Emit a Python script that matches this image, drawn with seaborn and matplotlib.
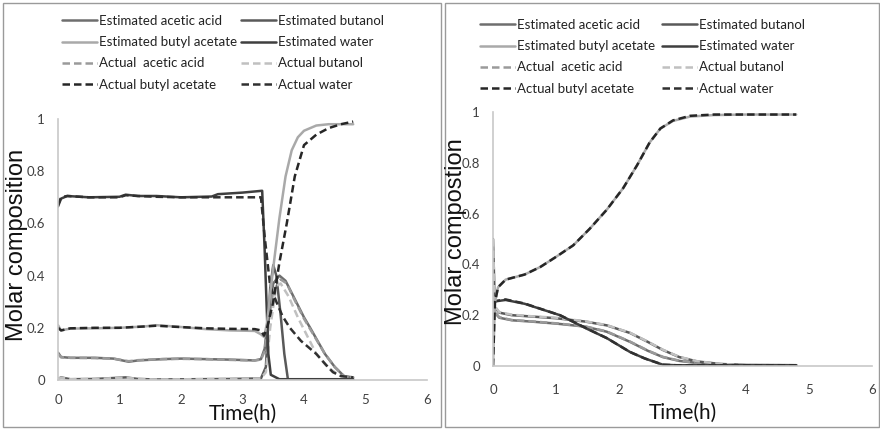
import matplotlib
matplotlib.use("Agg")
import matplotlib.pyplot as plt
import matplotlib.patches as mpatches
import seaborn as sns
import numpy as np

sns.set_theme(style="white")
plt.rcParams['font.family'] = ['Lato', 'DejaVu Sans']

# ---------------- Left panel data ----------------
L_est_acetic_t = [0, 0.05, 0.2, 0.6, 0.9, 1.15, 1.3, 1.7, 2.0, 2.4, 2.8, 3.2, 3.3, 3.36, 3.42, 3.5, 3.6, 3.7, 3.85, 4.0, 4.1, 4.34, 4.5, 4.65, 4.8]
L_est_acetic = [0.105, 0.088, 0.085, 0.085, 0.082, 0.07, 0.075, 0.08, 0.082, 0.08, 0.078, 0.075, 0.08, 0.12, 0.25, 0.37, 0.40, 0.38, 0.31, 0.24, 0.20, 0.10, 0.05, 0.015, 0.01]

L_act_acetic_t = [0, 0.05, 0.2, 0.6, 0.9, 1.15, 1.3, 1.7, 2.0, 2.4, 2.8, 3.2, 3.3, 3.36, 3.42, 3.5, 3.62, 3.72, 3.85, 4.0, 4.1, 4.34, 4.5, 4.65, 4.8]
L_act_acetic = [0.1, 0.087, 0.085, 0.084, 0.082, 0.072, 0.076, 0.08, 0.081, 0.08, 0.077, 0.075, 0.078, 0.11, 0.22, 0.34, 0.385, 0.37, 0.305, 0.235, 0.195, 0.10, 0.05, 0.015, 0.01]

L_est_butanol_t = [0, 0.05, 0.2, 0.6, 1.1, 1.3, 1.6, 2.2, 2.8, 3.3, 3.38, 3.45, 3.5, 3.55, 3.62, 3.68, 3.74, 4.8]
L_est_butanol = [0.004, 0.01, 0.003, 0.004, 0.01, 0.004, 0.002, 0.003, 0.004, 0.006, 0.05, 0.35, 0.44, 0.40, 0.25, 0.10, 0.0, 0.0]

L_act_butanol_t = [0, 0.05, 0.2, 0.6, 1.1, 1.3, 1.6, 2.2, 2.8, 3.3, 3.38, 3.45, 3.55, 3.62, 3.75, 3.9, 4.05, 4.2, 4.4, 4.6, 4.8]
L_act_butanol = [0.004, 0.009, 0.003, 0.004, 0.009, 0.004, 0.002, 0.003, 0.004, 0.006, 0.03, 0.2, 0.36, 0.37, 0.32, 0.24, 0.17, 0.10, 0.045, 0.015, 0.01]

L_est_ester_t = [0, 0.05, 0.2, 0.6, 1.0, 1.4, 1.6, 1.9, 2.4, 2.8, 3.2, 3.3, 3.35, 3.4, 3.45, 3.5, 3.6, 3.7, 3.8, 3.9, 4.0, 4.2, 4.4, 4.6, 4.8]
L_est_ester = [0.21, 0.19, 0.197, 0.198, 0.2, 0.205, 0.21, 0.205, 0.195, 0.19, 0.188, 0.175, 0.165, 0.22, 0.33, 0.43, 0.62, 0.78, 0.88, 0.93, 0.955, 0.975, 0.98, 0.98, 0.98]

L_act_ester_t = [0, 0.05, 0.2, 0.6, 1.0, 1.4, 1.6, 1.9, 2.4, 2.8, 3.2, 3.3, 3.35, 3.4, 3.5, 3.6, 3.72, 3.85, 4.0, 4.2, 4.4, 4.6, 4.8]
L_act_ester = [0.2, 0.19, 0.198, 0.2, 0.2, 0.205, 0.208, 0.204, 0.198, 0.196, 0.195, 0.19, 0.17, 0.2, 0.3, 0.45, 0.6, 0.78, 0.9, 0.94, 0.965, 0.98, 0.99]

L_est_water_t = [0, 0.05, 0.15, 0.5, 1.0, 1.1, 1.3, 1.6, 2.0, 2.5, 2.6, 3.0, 3.32, 3.36, 3.42, 3.46, 3.6, 4.8]
L_est_water = [0.665, 0.695, 0.705, 0.70, 0.702, 0.71, 0.705, 0.705, 0.70, 0.703, 0.712, 0.718, 0.725, 0.50, 0.10, 0.02, 0.003, 0.003]

L_act_water_t = [0, 0.05, 0.15, 0.5, 1.0, 1.1, 1.3, 1.6, 2.0, 2.5, 3.0, 3.3, 3.36, 3.45, 3.55, 3.65, 3.77, 3.95, 4.2, 4.35, 4.47, 4.6, 4.8]
L_act_water = [0.67, 0.70, 0.705, 0.70, 0.70, 0.708, 0.705, 0.702, 0.70, 0.70, 0.70, 0.70, 0.55, 0.36, 0.30, 0.245, 0.20, 0.15, 0.10, 0.06, 0.03, 0.015, 0.01]

# ---------------- Right panel data ----------------
R_t = [0, 0.03, 0.1, 0.3, 0.6, 1.0, 1.46, 1.8, 2.17, 2.45, 2.69, 2.95, 3.23, 3.6, 4.0, 4.8]
R_est_butanol = [0.5, 0.23, 0.21, 0.2, 0.195, 0.188, 0.175, 0.16, 0.13, 0.095, 0.063, 0.035, 0.018, 0.008, 0.004, 0.003]
R_act_butanol = [0.5, 0.235, 0.212, 0.202, 0.196, 0.19, 0.176, 0.161, 0.131, 0.096, 0.064, 0.036, 0.019, 0.008, 0.004, 0.003]
R_est_acetic = [0.25, 0.21, 0.19, 0.18, 0.175, 0.167, 0.155, 0.135, 0.095, 0.06, 0.035, 0.02, 0.012, 0.006, 0.003, 0.003]
R_act_acetic = [0.25, 0.212, 0.192, 0.181, 0.176, 0.168, 0.156, 0.136, 0.096, 0.061, 0.036, 0.021, 0.012, 0.006, 0.003, 0.003]

R_ester_t = [0, 0.03, 0.08, 0.2, 0.5, 0.75, 1.0, 1.27, 1.53, 1.8, 2.06, 2.28, 2.48, 2.65, 2.85, 3.12, 3.5, 4.0, 4.8]
R_est_ester = [0, 0.25, 0.31, 0.34, 0.36, 0.39, 0.43, 0.475, 0.54, 0.615, 0.70, 0.79, 0.88, 0.935, 0.965, 0.982, 0.988, 0.99, 0.99]
R_act_ester = [0, 0.25, 0.31, 0.34, 0.36, 0.39, 0.43, 0.475, 0.54, 0.615, 0.70, 0.79, 0.88, 0.935, 0.967, 0.985, 0.99, 0.99, 0.99]

R_water_t = [0, 0.05, 0.2, 0.5, 1.06, 1.5, 1.8, 2.17, 2.4, 2.69, 2.9, 3.2, 4.0, 4.8]
R_est_water = [0.25, 0.255, 0.26, 0.245, 0.20, 0.145, 0.11, 0.055, 0.03, 0.005, 0.003, 0.003, 0.003, 0.003]
R_act_water = [0.25, 0.256, 0.262, 0.246, 0.20, 0.146, 0.11, 0.055, 0.03, 0.005, 0.003, 0.003, 0.003, 0.003]

labels = ["Estimated acetic acid", "Estimated butanol", "Estimated butyl acetate", "Estimated water",
          "Actual  acetic acid", "Actual butanol", "Actual butyl acetate", "Actual water"]
x_ticks = [0, 1, 2, 3, 4, 5, 6]
y_ticks = [0, 0.2, 0.4, 0.6, 0.8, 1]
y_ticklabels = ["0", "0.2", "0.4", "0.6", "0.8", "1"]

styles = {
    "Estimated acetic acid": dict(color="#6e6e6e", ls="-", lw=1.8),
    "Estimated butanol": dict(color="#595959", ls="-", lw=1.8),
    "Estimated butyl acetate": dict(color="#a9a9a9", ls="-", lw=1.8),
    "Estimated water": dict(color="#3f3f3f", ls="-", lw=1.8),
    "Actual  acetic acid": dict(color="#9a9a9a", ls=(0, (3, 1.6)), lw=1.8),
    "Actual butanol": dict(color="#c0c0c0", ls=(0, (3, 1.6)), lw=1.8),
    "Actual butyl acetate": dict(color="#262626", ls=(0, (3, 1.6)), lw=1.8),
    "Actual water": dict(color="#303030", ls=(0, (3, 1.6)), lw=1.8),
}

fig = plt.figure(figsize=(8.8, 4.3), dpi=100)

# panel frames
for (x0, x1) in [(3 / 880, 441 / 880), (445 / 880, 878.5 / 880)]:
    fig.add_artist(mpatches.Rectangle((x0, 3 / 430), x1 - x0, 424 / 430, transform=fig.transFigure,
                                      fill=False, edgecolor="#9a9a9a", lw=1.0))

axL = fig.add_axes([58 / 880, 1 - 380 / 430, 369 / 880, 261 / 430])
axR = fig.add_axes([493 / 880, 1 - 366 / 430, 379 / 880, 254 / 430])

left_series = [
    ("Estimated acetic acid", L_est_acetic_t, L_est_acetic),
    ("Actual  acetic acid", L_act_acetic_t, L_act_acetic),
    ("Estimated butanol", L_est_butanol_t, L_est_butanol),
    ("Actual butanol", L_act_butanol_t, L_act_butanol),
    ("Estimated water", L_est_water_t, L_est_water),
    ("Actual water", L_act_water_t, L_act_water),
    ("Estimated butyl acetate", L_est_ester_t, L_est_ester),
    ("Actual butyl acetate", L_act_ester_t, L_act_ester),
]
right_series = [
    ("Estimated acetic acid", R_t, R_est_acetic),
    ("Actual  acetic acid", R_t, R_act_acetic),
    ("Estimated butanol", R_t, R_est_butanol),
    ("Actual butanol", R_t, R_act_butanol),
    ("Estimated water", R_water_t, R_est_water),
    ("Actual water", R_water_t, R_act_water),
    ("Estimated butyl acetate", R_ester_t, R_est_ester),
    ("Actual butyl acetate", R_ester_t, R_act_ester),
]

for ax, series in [(axL, left_series), (axR, right_series)]:
    for name, t, v in series:
        st = styles[name]
        sns.lineplot(x=t, y=v, ax=ax, color=st["color"], linestyle=st["ls"], linewidth=st["lw"],
                     estimator=None, sort=False, label=name, legend=False)
    ax.set_xlim(0, 6)
    ax.set_ylim(0, 1)
    ax.set_xticks(x_ticks)
    ax.set_xticklabels([str(v) for v in x_ticks])
    ax.set_yticks(y_ticks)
    ax.set_yticklabels(y_ticklabels)
    for s in ["top", "right"]:
        ax.spines[s].set_visible(False)
    for s in ["left", "bottom"]:
        ax.spines[s].set_color("#c8c8c8")
        ax.spines[s].set_linewidth(1.2)
    ax.tick_params(axis="both", length=0, labelsize=9.5, labelcolor="#404040")
    ax.grid(False)
    ax.set_facecolor("none")
    ax.set_xlabel("")
    ax.set_ylabel("")

axL.tick_params(axis="x", pad=10)
axL.tick_params(axis="y", pad=9.5)
axR.tick_params(axis="x", pad=13)
axR.tick_params(axis="y", pad=9.5)

# axis titles
fig.text(17 / 880, 1 - 245 / 430, "Molar composition", rotation=90, ha="center", va="center",
         fontsize=17, family=["Liberation Sans", "DejaVu Sans"], color="#111111")
fig.text(456 / 880, 1 - 232 / 430, "Molar compostion", rotation=90, ha="center", va="center",
         fontsize=17, family=["Liberation Sans", "DejaVu Sans"], color="#111111")
fig.text(243 / 880, 1 - 414 / 430, "Time(h)", ha="center", va="center", fontsize=15, color="#111111")
fig.text(683 / 880, 1 - 413 / 430, "Time(h)", ha="center", va="center", fontsize=15, color="#111111")

# legends (column-major order to match row-major reference layout)
order = ["Estimated acetic acid", "Estimated butyl acetate", "Actual  acetic acid", "Actual butyl acetate",
         "Estimated butanol", "Estimated water", "Actual butanol", "Actual water"]
for ax, anchor, colsp in [(axL, (62 / 880, 1 - 15 / 430), 0.3), (axR, (480 / 880, 1 - 19 / 430), 0.5)]:
    handles, labs = ax.get_legend_handles_labels()
    hmap = dict(zip(labs, handles))
    fig.legend([hmap[k] for k in order], order, loc="upper left", bbox_to_anchor=anchor,
               bbox_transform=fig.transFigure, ncol=2, frameon=False, fontsize=9.5,
               handlelength=2.65, handletextpad=0.15, columnspacing=colsp, labelspacing=0.7,
               borderpad=0, borderaxespad=0, labelcolor="#222222")

fig.savefig("out.png", dpi=100)
